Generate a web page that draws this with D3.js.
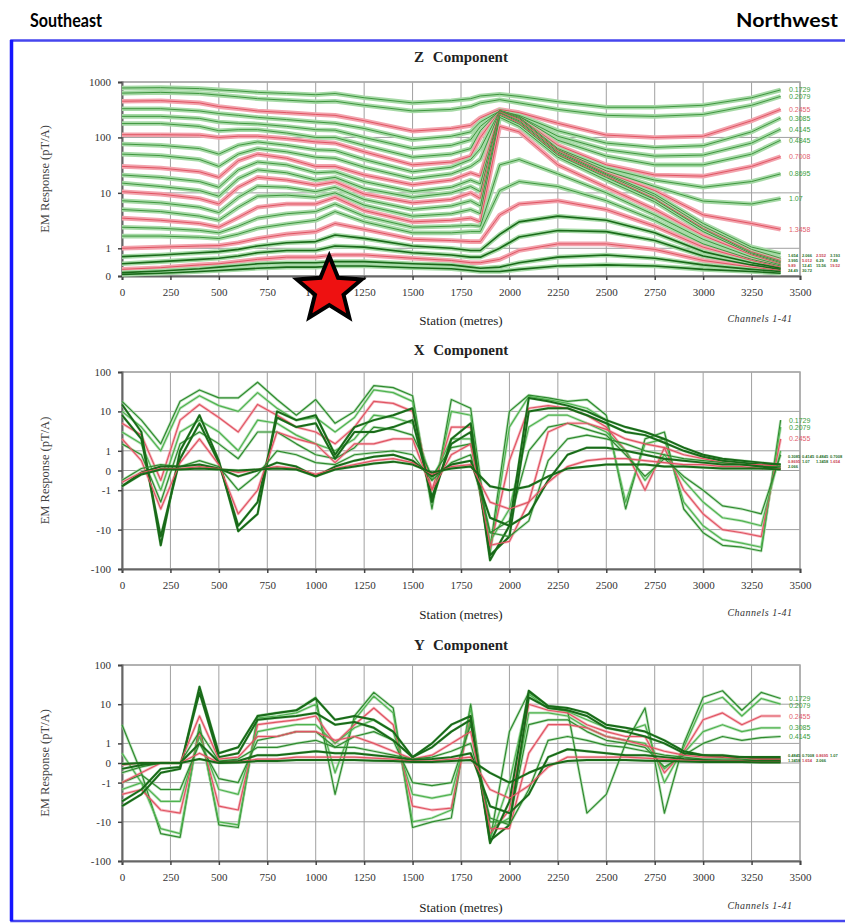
<!DOCTYPE html>
<html>
<head>
<meta charset="utf-8">
<script src="https://cdn.jsdelivr.net/npm/d3@7"></script>
<style>
  body { margin: 0; background: #fff; }
  .tick text { font-family: "Liberation Serif", serif; font-size: 11px; fill: #333; }
</style>
</head>
<body>
<script>
// stations along the line (metres)
var stations = [0,100,200,300,400,500,600,700,800,900,1000,1100,1200,1300,1400,1500,1600,1700,
  1800,1900,2000,2100,2200,2300,2400,2500,2600,2700,2800,2900,3000,3100,3200,3300,3400];
var zStations = [0,200,400,500,600,700,850,1000,1100,1250,1500,1700,1800,1850,1950,2050,2250,2500,2750,3000,3250,3400];
var stationTicks = [0,250,500,750,1000,1250,1500,1750,2000,2250,2500,2750,3000,3250,3500];
var zTicks = [0,1,10,100,1000];
var xyTicks = [-100,-10,-1,0,1,10,100];

var channelTimes = ["0.1729","0.2079","0.2455","0.3085","0.4145","0.4845","0.7008","0.8695","1.07","1.3458",
  "1.654","2.066","2.552","3.193","3.995","5.012","6.29","7.89","9.89","12.41","15.56","19.52","24.49","30.72"];

// which channels are drawn red / dark
var zRed = [2,6,9,12,15,18,21], zDark = [19,20,22,23];
var xRed = [2,7,10], xDark = [5,6,9,11];
var yRed = [2,7,10], yDark = [5,6,9,11];

// Z component, pT/A, one row per channel (at zStations)
var zValues = [
  [780,790,760,720,690,650,620,590,620,520,420,460,500,560,600,550,440,350,350,380,520,720],
  [630,650,620,580,540,500,470,440,450,380,300,320,360,420,480,420,320,250,240,260,380,550],
  [450,460,420,360,330,300,280,260,250,200,130,145,165,225,320,280,180,110,100,105,200,320],
  [330,330,300,270,250,230,210,190,180,145,91,105,126,190,300,250,132,79,66,71,126,224],
  [240,240,220,190,180,175,158,138,135,100,63,72,91,158,300,240,105,60,46,48,79,141],
  [178,178,158,132,138,138,120,100,100,72,44,50,63,132,310,240,89,46,32,32,50,89],
  [112,112,110,100,105,105,95,83,79,55,32,36,46,100,300,230,72,32,21,20,30,45],
  [76,72,63,50,72,83,72,60,58,40,24,29,40,63,300,230,63,28,17,12.6,16,22],
  [50,47,40,30,50,63,55,44,42,29,18,22,30,40,295,220,60,25,13,7.1,6.3,7.9],
  [30,28,24,19,38,50,42,30,30,21,14,17,23,20,290,210,58,23,11,4.0,2.8,2.2],
  [21,19,16,12.6,26,36,32,23,24,16,10.5,12.6,17,14.5,280,200,55,22,9.5,2.8,1.05,0.8],
  [15,13,11,8.7,18,26,23,17,19,12,8.3,10,13,10.5,275,190,52,21,8.7,2.5,0.96,0.64],
  [10.5,9.5,7.9,6.3,12.6,19,17,13.8,15.8,9.5,6.6,7.6,10,7.9,263,182,50,20,7.9,2.3,0.88,0.56],
  [7.2,6.6,5.5,4.4,8.3,13.2,12.6,10.5,12.6,7.6,5.0,5.8,7.2,5.8,250,174,48,19,7.6,2.2,0.84,0.52],
  [5.0,4.6,3.8,3.2,5.5,8.7,9.1,8.3,10,6.0,3.8,4.2,5.0,4.2,230,158,44,17,6.9,2.0,0.80,0.48],
  [3.5,3.2,2.8,2.4,3.6,5.5,6.3,6.3,8.3,4.8,3.0,3.2,3.5,3.0,158,126,32,12.6,5.0,1.7,0.76,0.44],
  [2.4,2.3,2.1,1.9,2.5,3.5,4.2,4.6,6.3,3.8,2.4,2.5,2.6,2.5,32,40,22,10,4.0,1.45,0.68,0.40],
  [1.66,1.66,1.58,1.5,1.8,2.3,2.75,3.2,4.6,3.0,1.9,1.9,2.0,2.0,11,16,13,7.2,3.2,1.2,0.6,0.36],
  [1.0,1.05,1.1,1.12,1.26,1.5,1.8,2.0,2.8,2.2,1.45,1.38,1.32,1.32,4.0,6.3,7.2,5.0,2.5,1.05,0.56,0.32],
  [0.70,0.76,0.84,0.88,0.96,1.1,1.26,1.32,1.74,1.51,1.1,1.0,0.92,0.92,1.78,3.0,3.8,3.2,1.9,0.88,0.48,0.28],
  [0.44,0.52,0.60,0.64,0.72,0.84,0.92,0.92,1.1,1.05,0.84,0.76,0.68,0.68,1.0,1.6,2.1,2.0,1.38,0.72,0.40,0.24],
  [0.24,0.30,0.40,0.44,0.52,0.60,0.68,0.68,0.76,0.76,0.64,0.56,0.48,0.48,0.60,0.92,1.2,1.2,0.96,0.56,0.32,0.20],
  [0.12,0.18,0.26,0.32,0.38,0.44,0.48,0.48,0.52,0.52,0.44,0.40,0.32,0.28,0.32,0.48,0.68,0.76,0.64,0.40,0.24,0.16],
  [0.06,0.10,0.16,0.20,0.24,0.28,0.32,0.32,0.36,0.36,0.30,0.26,0.20,0.16,0.16,0.24,0.36,0.40,0.36,0.24,0.16,0.10]
];

// X component, pT/A (at stations)
var xValues = [
  [18,6,1.5,18,35,22,22,55,20,8,20,5,10,45,40,25,-3,20,12,-30,10,26,22,18,20,8,-3,2,3,-3,-12,-25,-28,-35,6],
  [10,4,1,12,25,14,10,30,12,6,7,3,7,35,30,18,-2,10,8,-40,4,24,20,16,12,6,-2,1.5,2,-2,-8,-18,-22,-28,4],
  [5,2.5,-0.5,6,15,7,3,15,8,4,3,1.5,4,18,16,10,-1,4,4,-30,0.5,12,14,12,8,4,1,-1,1.2,-1,-4,-10,-12,-15,2],
  [3,1.5,-1,3,6,3,1,6,5,2.5,1.5,1,2,8,7,5,-0.5,2,2,-20,-3,4,8,8,5,3,1,-0.5,0.8,-0.5,-2,-5,-6,-8,1],
  [1.5,0.8,-2,1.5,3,1.5,0.6,3,3,1.5,0.8,0.6,1.2,4,3.5,2.5,-0.3,1.2,1.5,-12,-6,1,4,5,3.5,2.5,0.8,-0.3,0.6,-0.3,-1,-2.5,-3,-4,0.8],
  [15,3,-25,1,8,0.5,-11,-4,10,6,8,0.8,4,6,8,12,-2,2,5,-60,-8,22,18,14,10,6,4,3,2,1.2,0.8,0.6,0.5,0.4,0.3],
  [8,2,-15,0.6,5,0.4,-8,-2,7,4,5,0.6,3,3,4,6,-1.5,1.5,3,-45,-15,10,12,12,8,5,3,2.5,1.6,1,0.7,0.5,0.4,0.3,0.3],
  [2,0.5,-3,0.4,2,0.3,-4,-1,3,2,1.5,0.4,1.5,1.5,2,2,-1,0.8,1.5,-25,-20,-2,3,5,5,3.5,2,1.5,1.2,0.8,0.6,0.4,0.3,0.3,0.2],
  [-0.5,0.1,0.3,0.2,0.5,0.2,-1,-0.2,1,0.8,0.4,0.3,0.8,0.9,1,0.8,-0.5,0.4,0.8,-12,-15,-6,0.5,2,2.5,2,1.5,1,0.8,0.6,0.5,0.4,0.3,0.2,0.2],
  [-0.8,-0.1,0.2,0.2,0.3,0.1,-0.3,0,0.4,0.2,-0.3,0.2,0.5,0.7,0.8,0.5,-0.3,0.3,0.5,-5,-8,-4,-0.5,0.8,1.2,1.2,1,0.8,0.6,0.5,0.4,0.3,0.3,0.2,0.1],
  [-0.6,-0.1,0.1,0.1,0.2,0.1,-0.1,0.05,0.2,0.1,-0.2,0.1,0.3,0.5,0.6,0.4,-0.2,0.2,0.3,-2,-3,-2,-0.6,0.2,0.5,0.6,0.6,0.5,0.4,0.3,0.3,0.2,0.2,0.1,0.1],
  [-0.8,-0.2,0.05,0.05,0.1,0.05,0,0.05,0.1,0.05,-0.3,0.05,0.2,0.35,0.45,0.3,-0.1,0.1,0.2,-0.8,-1,-0.8,-0.3,0.1,0.2,0.3,0.3,0.3,0.2,0.2,0.15,0.1,0.1,0.1,0.05]
];

// Y component, pT/A (at stations)
var yValues = [
  [3,-0.5,-20,-25,3,-12,-14,5,6,7,15,-2,5,20,8,-14,-10,-8,10,-30,2,20,9,7,-6,-2,1,8,-6,1,15,22,7,20,14],
  [0.5,-1,-15,-20,2.5,-10,-12,4.5,5,6,10,-0.5,4,16,6,-10,-8,-5,8,-28,-1,18,8,6.5,4,2.5,2,3,-1,0.8,10,15,5,14,10],
  [-2,-1.5,-5,-6,2,-4,-5,3,3.5,4,5,1,3,8,3,-4,-5,-4.5,5,-20,-5,10,7,6,3,2,1.5,1.5,-0.5,0.6,4,6,3,5,5],
  [-1.5,-1,-3,-3,1.5,-1.5,-2,2,2.5,3,3,1,2.5,4,2,-2,-2.5,-2,4,-15,-8,6,6,5,2.5,1.5,1.2,1,-0.3,0.5,2,3,2,2.5,2.5],
  [-1,-0.6,-1.5,-1.5,1,-0.8,-1,1.2,1.5,2,2,0.8,1.5,2,1.2,-1,-1.2,-1,3,-10,-10,3,4,4,2,1.2,1,0.8,-0.2,0.4,1,1.5,1.2,1.4,1.5],
  [-4,-2,-0.5,-0.3,28,0.5,0.8,5,6,7,14,4,5,4,2,0.3,1,3,5,-35,-3,22,9,8,6,3,2.5,2,1.2,0.6,0.4,0.4,0.3,0.3,0.3],
  [-3,-1.5,-0.3,-0.2,20,0.3,0.5,4,4.5,5,6,3,3.5,2.5,1.2,0.3,0.8,2,4,-30,-12,15,8,7,5,2.5,2,1.5,1,0.5,0.4,0.3,0.3,0.2,0.2],
  [-1,-0.5,0,0,5,0.2,0.3,1.5,1.5,2,2,1.2,1.5,1,0.6,0.2,0.4,1,2,-15,-15,0.5,3,3,2.5,1.5,1.2,0.9,0.6,0.4,0.3,0.3,0.2,0.2,0.2],
  [-0.5,-0.2,0,0,2,0.1,0.2,0.8,0.8,1,1.2,0.8,0.8,0.6,0.4,0.2,0.3,0.6,1,-8,-12,-1.5,1.2,1.5,1.2,0.9,0.8,0.6,0.4,0.3,0.2,0.2,0.2,0.1,0.1],
  [-0.3,-0.1,0,0,1,0.05,0.1,0.4,0.4,0.5,0.6,0.5,0.5,0.4,0.3,0.15,0.2,0.3,0.5,-4,-6,-2,0.3,0.7,0.6,0.5,0.4,0.4,0.3,0.2,0.15,0.1,0.1,0.1,0.1],
  [-0.1,0,0,0,0.5,0.02,0.05,0.2,0.2,0.3,0.3,0.3,0.3,0.25,0.2,0.1,0.1,0.2,0.3,-1.5,-2.5,-1.2,-0.2,0.3,0.3,0.3,0.3,0.25,0.2,0.15,0.1,0.1,0.1,0.05,0.05],
  [-0.05,0,0,0,0.2,0,0.02,0.1,0.1,0.15,0.15,0.15,0.15,0.12,0.1,0.05,0.05,0.1,0.15,-0.5,-1,-0.5,-0.1,0.1,0.15,0.15,0.15,0.12,0.1,0.08,0.05,0.05,0.05,0.03,0.03]
];

// axis transform: linear inside +-1, log outside (1 sits half a decade from 0)
function tf(v) {
  var a = Math.abs(v);
  return a < 1 ? v / 2 : Math.sign(v) * (0.5 + Math.log10(a));
}

var svg = d3.select("body").append("svg")
  .attr("width", 845)
  .attr("height", 924);

svg.append("rect").attr("width", 845).attr("height", 924).attr("fill", "#fff");

// header
svg.append("text").attr("x", 30).attr("y", 27)
  .attr("font-family", "Lato, 'Open Sans', sans-serif").attr("font-weight", 700).attr("font-size", "19px")
  .attr("textLength", 72).attr("lengthAdjust", "spacingAndGlyphs")
  .text("Southeast");
svg.append("text").attr("x", 838).attr("y", 27).attr("text-anchor", "end")
  .attr("font-family", "Lato, 'Open Sans', sans-serif").attr("font-weight", 700).attr("font-size", "19px")
  .attr("textLength", 102).attr("lengthAdjust", "spacingAndGlyphs")
  .text("Northwest");

// blue frame
svg.append("rect").attr("x", 11.5).attr("y", 40.5).attr("width", 845).attr("height", 880.5)
  .attr("fill", "none").attr("stroke", "#4646ee").attr("stroke-width", 2.5);
svg.append("line").attr("x1", 11.5).attr("y1", 40).attr("x2", 11.5).attr("y2", 921)
  .attr("stroke", "#1515ff").attr("stroke-width", 3.5);

var x = d3.scaleLinear().domain([0, 3500]).range([122, 800]);

var panels = [
  { title: "Z", titleY: 62, top: 82, bottom: 276, tDomain: [0, 3.5], ticks: zTicks, st: zStations,
    vals: zValues, red: zRed, dark: zDark, halo: true, stationY: 325, spread: 10 },
  { title: "X", titleY: 355, top: 372, bottom: 569, tDomain: [-2.5, 2.5], ticks: xyTicks, st: stations,
    vals: xValues, red: xRed, dark: xDark, halo: false, stationY: 619, spread: 3 },
  { title: "Y", titleY: 650, top: 665, bottom: 861, tDomain: [-2.5, 2.5], ticks: xyTicks, st: stations,
    vals: yValues, red: yRed, dark: yDark, halo: false, stationY: 912, spread: 5 }
];

panels.forEach(function (p, pi) {
  var g = svg.append("g");
  var yT = d3.scaleLinear().domain(p.tDomain).range([p.bottom, p.top]);
  var y = function (v) { return yT(tf(v)); };

  // title
  g.append("text").attr("x", 461).attr("y", p.titleY).attr("text-anchor", "middle")
    .attr("font-family", "'Liberation Serif', serif").attr("font-weight", "bold").attr("font-size", "15px")
    .attr("fill", "#222").attr("word-spacing", "5px")
    .text(p.title + " Component");

  // grid
  g.selectAll("line.vg").data(stationTicks).enter().append("line")
    .attr("class", "vg")
    .attr("x1", function (d) { return x(d); }).attr("x2", function (d) { return x(d); })
    .attr("y1", p.top).attr("y2", p.bottom)
    .attr("stroke", "#a0a0a0").attr("stroke-width", 1);
  g.selectAll("line.hg").data(p.ticks).enter().append("line")
    .attr("class", "hg")
    .attr("x1", x(0)).attr("x2", x(3500))
    .attr("y1", function (d) { return y(d); }).attr("y2", function (d) { return y(d); })
    .attr("stroke", "#a0a0a0").attr("stroke-width", 1);
  g.append("rect").attr("x", x(0)).attr("y", p.top).attr("width", x(3500) - x(0)).attr("height", p.bottom - p.top)
    .attr("fill", "none").attr("stroke", "#a8a8a8").attr("stroke-width", 1.5);

  // axes
  var xa = g.append("g").attr("transform", "translate(0," + p.bottom + ")")
    .call(d3.axisBottom(x).tickValues(stationTicks).tickSize(4).tickPadding(8).tickFormat(function (d) { return String(d); }));
  var ya = g.append("g").attr("transform", "translate(" + x(0) + ",0)")
    .call(d3.axisLeft(yT).tickValues(p.ticks.map(tf)).tickSize(4).tickPadding(7)
      .tickFormat(function (d, i) { return String(p.ticks[i]); }));
  [xa, ya].forEach(function (a) {
    a.select(".domain").attr("stroke", "#666").attr("stroke-width", 2);
    a.selectAll(".tick line").attr("stroke", "#444").attr("stroke-width", 1.5);
  });

  // axis titles
  g.append("text").attr("x", 461).attr("y", p.stationY).attr("text-anchor", "middle")
    .attr("font-family", "'Liberation Serif', serif").attr("font-size", "13px").attr("fill", "#222")
    .text("Station (metres)");
  g.append("text").attr("x", 760).attr("y", p.stationY - 3).attr("text-anchor", "middle")
    .attr("font-family", "'Liberation Serif', serif").attr("font-style", "italic").attr("font-size", "10px")
    .attr("fill", "#333").attr("letter-spacing", "0.5px")
    .text("Channels 1-41");
  g.append("text")
    .attr("transform", "translate(49," + ((p.top + p.bottom) / 2) + ") rotate(-90)")
    .attr("text-anchor", "middle")
    .attr("font-family", "'Liberation Serif', serif").attr("font-size", "12.5px").attr("fill", "#444")
    .text("EM Response (pT/A)");

  // channel lines
  var line = d3.line()
    .x(function (d, i) { return x(p.st[i]); })
    .y(function (d) { return y(d); });

  g.selectAll("path.halo").data(p.vals).enter().append("path")
    .attr("class", "halo").attr("d", line).attr("fill", "none")
    .attr("stroke", function (d, i) { return p.red.indexOf(i) >= 0 ? "#f3a3ad" : "#a6d9a6"; })
    .attr("stroke-opacity", p.halo ? 1 : 0.7)
    .attr("stroke-width", p.halo ? 4.6 : 2.8).attr("stroke-linejoin", "round");
  g.selectAll("path.ch").data(p.vals).enter().append("path")
    .attr("class", "ch").attr("d", line).attr("fill", "none")
    .attr("stroke", function (d, i) {
      if (p.red.indexOf(i) >= 0) return "#e05563";
      if (p.dark.indexOf(i) >= 0) return "#196a19";
      return p.halo ? "#3f963f" : (i % 2 ? "#4fb34f" : "#2f8a2f");
    })
    .attr("stroke-width", function (d, i) {
      if (p.dark.indexOf(i) >= 0) return p.halo ? 1.6 : 2;
      return p.halo ? 1 : 1.2;
    })
    .attr("stroke-linejoin", "round");

  // channel time labels at line ends: first ones spread, the rest packed in a small block
  var prev = -1e9;
  var rest = p.vals.slice(p.spread);
  var rows = Math.ceil(rest.length / 4);
  var meanEnd = d3.mean(rest, function (v) { return y(v[v.length - 1]); });
  var blockTop = null;
  p.vals.forEach(function (v, i) {
    var yy = y(v[v.length - 1]);
    var isRed = p.red.indexOf(i) >= 0;
    if (i < p.spread) {
      if (yy < prev + 7) yy = prev + 7;
      prev = yy;
      g.append("text").attr("x", 789).attr("y", yy + 2.5)
        .attr("font-family", "'Liberation Sans', sans-serif").attr("font-size", "7px")
        .attr("fill", isRed ? "#e2606c" : "#3a9d3a")
        .text(channelTimes[i]);
    } else {
      if (blockTop === null) blockTop = Math.max(meanEnd - rows * 2.5, prev + 5);
      var k = i - p.spread;
      g.append("text").attr("x", 788 + (k % 4) * 14).attr("y", blockTop + Math.floor(k / 4) * 5 + 2)
        .attr("font-family", "'Liberation Sans', sans-serif").attr("font-size", "4px").attr("font-weight", "bold")
        .attr("fill", isRed ? "#c94050" : "#1f6f1f")
        .text(channelTimes[i]);
    }
  });

  // star marking the target, Z panel only
  if (pi === 0) {
    var pts = d3.range(10).map(function (k) { return [k * Math.PI / 5, k % 2 ? 15 : 34]; });
    g.append("path")
      .attr("transform", "translate(" + x(1070) + "," + (p.bottom + 14) + ")")
      .attr("d", d3.lineRadial().curve(d3.curveLinearClosed)(pts))
      .attr("fill", "#ee1111").attr("stroke", "#000").attr("stroke-width", 4)
      .attr("stroke-linejoin", "miter");
  }
});
</script>
</body>
</html>
